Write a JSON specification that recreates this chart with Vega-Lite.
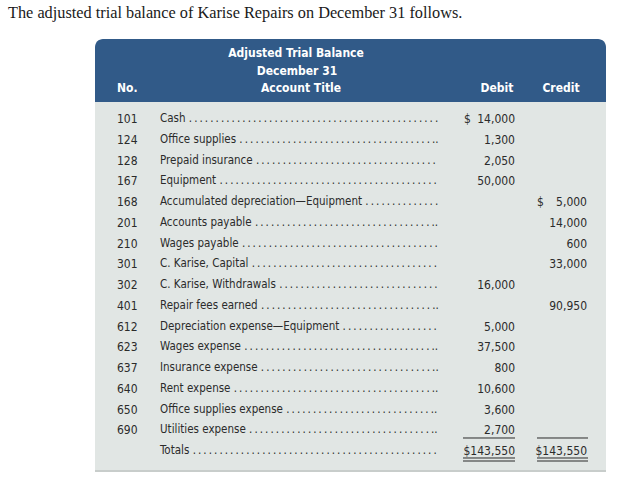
{
  "$schema": "https://vega.github.io/schema/vega-lite/v6.json",
  "width": 620,
  "height": 486,
  "autosize": "none",
  "padding": 0,
  "background": "white",
  "config": {
    "view": {"stroke": null},
    "text": {"font": "Liberation Sans Narrow, DejaVu Sans Condensed, sans-serif", "fontSize": 12, "color": "#2b2b2b", "baseline": "middle"}
  },
  "title": {
    "text": "The adjusted trial balance of Karise Repairs on December 31 follows.",
    "anchor": "start",
    "frame": "group",
    "orient": "top",
    "offset": -21,
    "dx": 8,
    "font": "Liberation Serif",
    "fontSize": 16.3,
    "fontWeight": "normal",
    "color": "#1a1a1a"
  },
  "datasets": {
    "rows": [
      {"row": 1, "no": "101", "title": "Cash", "debit": "14,000", "credit": "", "dsign": "$", "csign": ""},
      {"row": 2, "no": "124", "title": "Office supplies", "debit": "1,300", "credit": "", "dsign": "", "csign": ""},
      {"row": 3, "no": "128", "title": "Prepaid insurance", "debit": "2,050", "credit": "", "dsign": "", "csign": ""},
      {"row": 4, "no": "167", "title": "Equipment", "debit": "50,000", "credit": "", "dsign": "", "csign": ""},
      {"row": 5, "no": "168", "title": "Accumulated depreciation\u2014Equipment", "debit": "", "credit": "5,000", "dsign": "", "csign": "$"},
      {"row": 6, "no": "201", "title": "Accounts payable", "debit": "", "credit": "14,000", "dsign": "", "csign": ""},
      {"row": 7, "no": "210", "title": "Wages payable", "debit": "", "credit": "600", "dsign": "", "csign": ""},
      {"row": 8, "no": "301", "title": "C. Karise, Capital", "debit": "", "credit": "33,000", "dsign": "", "csign": ""},
      {"row": 9, "no": "302", "title": "C. Karise, Withdrawals", "debit": "16,000", "credit": "", "dsign": "", "csign": ""},
      {"row": 10, "no": "401", "title": "Repair fees earned", "debit": "", "credit": "90,950", "dsign": "", "csign": ""},
      {"row": 11, "no": "612", "title": "Depreciation expense\u2014Equipment", "debit": "5,000", "credit": "", "dsign": "", "csign": ""},
      {"row": 12, "no": "623", "title": "Wages expense", "debit": "37,500", "credit": "", "dsign": "", "csign": ""},
      {"row": 13, "no": "637", "title": "Insurance expense", "debit": "800", "credit": "", "dsign": "", "csign": ""},
      {"row": 14, "no": "640", "title": "Rent expense", "debit": "10,600", "credit": "", "dsign": "", "csign": ""},
      {"row": 15, "no": "650", "title": "Office supplies expense", "debit": "3,600", "credit": "", "dsign": "", "csign": ""},
      {"row": 16, "no": "690", "title": "Utilities expense", "debit": "2,700", "credit": "", "dsign": "", "csign": ""},
      {"row": 17, "no": "", "title": "Totals", "debit": "$143,550", "credit": "$143,550", "dsign": "", "csign": ""}
    ],
    "header": [
      {"line": 1, "col": "center", "text": "Adjusted Trial Balance"},
      {"line": 2, "col": "center", "text": "December 31"},
      {"line": 3, "col": "no", "text": "No."},
      {"line": 3, "col": "acct", "text": "Account Title"},
      {"line": 3, "col": "debit", "text": "Debit"},
      {"line": 3, "col": "credit", "text": "Credit"}
    ]
  },
  "layer": [
    {
      "data": {"values": [{}]},
      "mark": {"type": "rect", "color": "#e1e6e4"},
      "encoding": {
        "x": {"datum": 95, "type": "quantitative", "scale": {"domain": [0, 620], "range": [0, 620], "nice": false, "zero": false}, "axis": null},
        "x2": {"datum": 606},
        "y": {"datum": 0.181, "type": "quantitative", "scale": {"domain": [1, 17], "range": [119, 451], "nice": false, "zero": false}, "axis": null},
        "y2": {"datum": 17.916}
      }
    },
    {
      "data": {"values": [{}]},
      "mark": {"type": "rule", "color": "#c8cdcb", "strokeWidth": 2},
      "encoding": {
        "x": {"datum": 95, "type": "quantitative"},
        "x2": {"datum": 606},
        "y": {"datum": 17.96, "type": "quantitative"}
      }
    },
    {
      "data": {"values": [{}]},
      "mark": {"type": "rect", "color": "#315a88", "cornerRadiusTopLeft": 8, "cornerRadiusTopRight": 8},
      "encoding": {
        "x": {"datum": 95, "type": "quantitative"},
        "x2": {"datum": 606},
        "y": {"datum": -2.855, "type": "quantitative"},
        "y2": {"datum": 0.181}
      }
    },
    {
      "data": {"name": "header"},
      "transform": [{"filter": "datum.line == 1"}],
      "mark": {"type": "text", "align": "center", "fontWeight": "bold", "color": "white"},
      "encoding": {
        "x": {"datum": 296, "type": "quantitative"},
        "y": {"datum": -2.181, "type": "quantitative"},
        "text": {"field": "text"}
      }
    },
    {
      "data": {"name": "header"},
      "transform": [{"filter": "datum.line == 2"}],
      "mark": {"type": "text", "align": "center", "fontWeight": "bold", "color": "white"},
      "encoding": {
        "x": {"datum": 297, "type": "quantitative"},
        "y": {"datum": -1.313, "type": "quantitative"},
        "text": {"field": "text"}
      }
    },
    {
      "data": {"name": "header"},
      "transform": [{"filter": "datum.col == 'no'"}],
      "mark": {"type": "text", "align": "left", "fontWeight": "bold", "color": "white"},
      "encoding": {
        "x": {"datum": 117, "type": "quantitative"},
        "y": {"datum": -0.494, "type": "quantitative"},
        "text": {"field": "text"}
      }
    },
    {
      "data": {"name": "header"},
      "transform": [{"filter": "datum.col == 'acct'"}],
      "mark": {"type": "text", "align": "center", "fontWeight": "bold", "color": "white"},
      "encoding": {
        "x": {"datum": 301, "type": "quantitative"},
        "y": {"datum": -0.494, "type": "quantitative"},
        "text": {"field": "text"}
      }
    },
    {
      "data": {"name": "header"},
      "transform": [{"filter": "datum.col == 'debit'"}],
      "mark": {"type": "text", "align": "center", "fontWeight": "bold", "color": "white"},
      "encoding": {
        "x": {"datum": 497, "type": "quantitative"},
        "y": {"datum": -0.494, "type": "quantitative"},
        "text": {"field": "text"}
      }
    },
    {
      "data": {"name": "header"},
      "transform": [{"filter": "datum.col == 'credit'"}],
      "mark": {"type": "text", "align": "center", "fontWeight": "bold", "color": "white"},
      "encoding": {
        "x": {"datum": 561, "type": "quantitative"},
        "y": {"datum": -0.494, "type": "quantitative"},
        "text": {"field": "text"}
      }
    },
    {
      "data": {"name": "rows"},
      "mark": {"type": "text", "align": "left"},
      "encoding": {
        "x": {"datum": 117, "type": "quantitative"},
        "y": {"field": "row", "type": "quantitative"},
        "text": {"field": "no"}
      }
    },
    {
      "data": {"name": "rows"},
      "transform": [{"calculate": "datum.title + ' ' + '.\u2009.\u2009.\u2009.\u2009.\u2009.\u2009.\u2009.\u2009.\u2009.\u2009.\u2009.\u2009.\u2009.\u2009.\u2009.\u2009.\u2009.\u2009.\u2009.\u2009.\u2009.\u2009.\u2009.\u2009.\u2009.\u2009.\u2009.\u2009.\u2009.\u2009.\u2009.\u2009.\u2009.\u2009.\u2009.\u2009.\u2009.\u2009.\u2009.\u2009.\u2009.\u2009.\u2009.\u2009.\u2009.\u2009.\u2009.\u2009.\u2009.\u2009.\u2009.\u2009.\u2009.\u2009.\u2009.\u2009.\u2009.\u2009.\u2009.\u2009.\u2009.\u2009.\u2009.\u2009.\u2009.\u2009.\u2009.\u2009.\u2009.'", "as": "label"}],
      "mark": {"type": "text", "align": "left", "limit": 279, "ellipsis": ".", "fontSize": 11.5},
      "encoding": {
        "x": {"datum": 160, "type": "quantitative"},
        "y": {"field": "row", "type": "quantitative"},
        "text": {"field": "label"}
      }
    },
    {
      "data": {"name": "rows"},
      "mark": {"type": "text", "align": "right"},
      "encoding": {
        "x": {"datum": 515, "type": "quantitative"},
        "y": {"field": "row", "type": "quantitative"},
        "text": {"field": "debit"}
      }
    },
    {
      "data": {"name": "rows"},
      "mark": {"type": "text", "align": "right"},
      "encoding": {
        "x": {"datum": 587, "type": "quantitative"},
        "y": {"field": "row", "type": "quantitative"},
        "text": {"field": "credit"}
      }
    },
    {
      "data": {"name": "rows"},
      "mark": {"type": "text", "align": "left"},
      "encoding": {
        "x": {"datum": 464, "type": "quantitative"},
        "y": {"field": "row", "type": "quantitative"},
        "text": {"field": "dsign"}
      }
    },
    {
      "data": {"name": "rows"},
      "mark": {"type": "text", "align": "left"},
      "encoding": {
        "x": {"datum": 537, "type": "quantitative"},
        "y": {"field": "row", "type": "quantitative"},
        "text": {"field": "csign"}
      }
    },
    {
      "data": {"values": [{}]},
      "mark": {"type": "rule", "color": "#2b2b2b", "strokeWidth": 1, "strokeDash": [52, 22, 51, 200]},
      "encoding": {
        "x": {"datum": 463, "type": "quantitative"},
        "x2": {"datum": 588},
        "y": {"datum": 16.373, "type": "quantitative"}
      }
    },
    {
      "data": {"values": [{}]},
      "mark": {"type": "rule", "color": "#2b2b2b", "strokeWidth": 1, "strokeDash": [52, 22, 51, 200]},
      "encoding": {
        "x": {"datum": 463, "type": "quantitative"},
        "x2": {"datum": 588},
        "y": {"datum": 17.337, "type": "quantitative"}
      }
    },
    {
      "data": {"values": [{}]},
      "mark": {"type": "rule", "color": "#2b2b2b", "strokeWidth": 1, "strokeDash": [52, 22, 51, 200]},
      "encoding": {
        "x": {"datum": 463, "type": "quantitative"},
        "x2": {"datum": 588},
        "y": {"datum": 17.482, "type": "quantitative"}
      }
    }
  ]
}
